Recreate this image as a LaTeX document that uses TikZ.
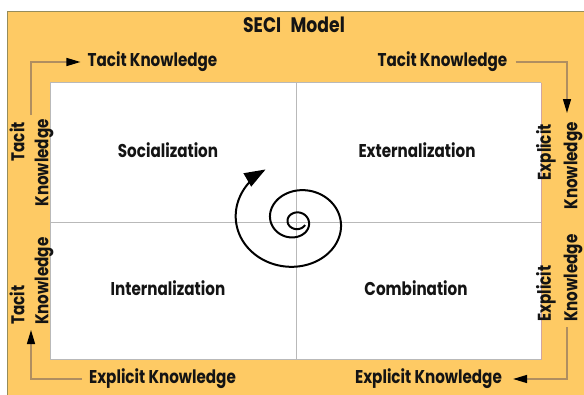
\documentclass[tikz,border=0pt]{standalone}
\usepackage{fontspec}
\setmainfont{Poppins}[FakeStretch=0.82]
\usetikzlibrary{arrows.meta}
\definecolor{seciorange}{RGB}{254,202,100}
\definecolor{edgeolive}{RGB}{150,140,90}
\definecolor{connbrown}{RGB}{176,142,96}
\definecolor{boxgray}{RGB}{185,185,185}
\definecolor{boxpink}{RGB}{210,165,160}
\definecolor{txt}{RGB}{20,20,20}
\begin{document}
\begin{tikzpicture}[x=1pt,y=-1pt,
  lbl/.style={font=\bfseries\fontsize{18.5}{20}\selectfont, text=txt, inner sep=0pt},
  titlestyle/.style={font=\bfseries\fontsize{21}{23}\selectfont, text=txt, inner sep=0pt},
  conn/.style={draw=connbrown, line width=1.4pt},
  tipr/.style={-{Triangle[length=14pt,width=8pt,color=black]}},
  divider/.style={draw=boxgray, line width=1pt},
  spiralline/.style={draw=black, line width=2pt}]
\useasboundingbox (0,0) rectangle (584,394);
\clip (0,0) rectangle (584,394);
% background
\fill[seciorange] (7.5,11.5) rectangle (600,410);
\draw[edgeolive, line width=1.3pt] (7.5,420) -- (7.5,11.5) -- (600,11.5);
% board
\fill[white] (50,82.5) rectangle (541,359.5);
\draw[boxgray, line width=1pt] (541,359.5) -- (50,359.5) -- (50,82.5) -- (541,82.5);
\draw[boxpink, line width=1pt] (541,82.5) -- (541,359.5);
\draw[divider] (296,82.5) -- (296,359.5);
\draw[divider] (50,222.5) -- (541,222.5);
% title
\node[titlestyle] (title) at (294,25) {SECI\hspace{0.45em}Model};
% quadrants
\node[lbl] (soc) at (168,150) {Socialization};
\node[lbl] (ext) at (417,150) {Externalization};
\node[lbl] (int) at (168,288) {Internalization};
\node[lbl] (com) at (416,288) {Combination};
% edge labels
\node[lbl] (tTL) at (152.5,62) {Tacit Knowledge};
\node[lbl] (tTR) at (442.5,62) {Tacit Knowledge};
\node[lbl] (eBL) at (162.5,379) {Explicit Knowledge};
\node[lbl] (eBR) at (428.5,379) {Explicit Knowledge};
% side labels
\node[lbl, rotate=90, anchor=east] (sTL1) at (17,122) {Tacit};
\node[lbl, rotate=90, anchor=east] (sTL2) at (44,119) {Knowledge};
\node[lbl, rotate=90, anchor=west] (sBL1) at (17,325) {Tacit};
\node[lbl, rotate=90, anchor=west] (sBL2) at (44,325) {Knowledge};
\node[lbl, rotate=90, anchor=east] (sTR1) at (546,124) {Explicit};
\node[lbl, rotate=90, anchor=east] (sTR2) at (573,122) {Knowledge};
\node[lbl, rotate=90, anchor=west] (sBR1) at (546,322) {Explicit};
\node[lbl, rotate=90, anchor=west] (sBR2) at (573,322) {Knowledge};
% connectors
\coordinate (cTL) at (31,115);
\coordinate (cTR) at (567,113);
\coordinate (cBR) at (567,327);
\coordinate (cBL) at (31,330);
\draw[conn, tipr, shorten >=7pt] (cTL) |- (tTL.west);
\draw[conn, tipr, shorten <=8pt] (tTR.east) -| (cTR);
\draw[conn, tipr, shorten >=11pt] (cBR) |- (eBR.east);
\draw[conn, tipr, shorten <=7pt] (eBL.west) -| (cBL);
% spiral
\draw[spiralline, -{Triangle[length=21pt,width=15pt]}] plot[domain=30:962, samples=400, smooth]
  ({297+(9+0.5*(0.097*(\x-365)+sqrt((0.097*(\x-365))^2+36)))*cos(\x)},
   {221+0.87*(9+0.5*(0.097*(\x-365)+sqrt((0.097*(\x-365))^2+36)))*sin(\x)});
\end{tikzpicture}
\end{document}
